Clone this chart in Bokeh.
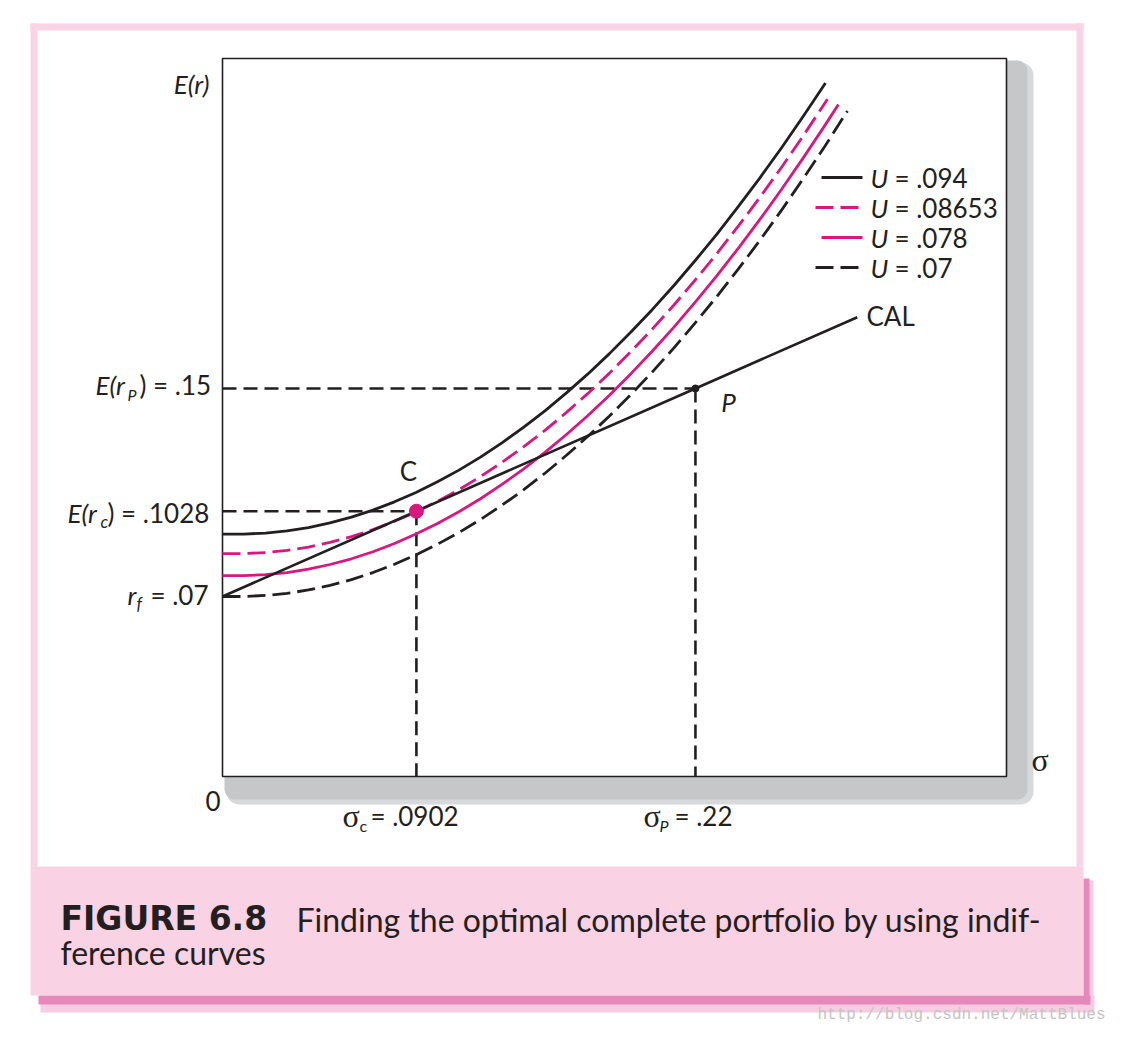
from bokeh.plotting import figure
from bokeh.models import Range1d, BoxAnnotation
from bokeh.core.properties import value
from bokeh.embed import file_html
from bokeh.resources import INLINE

# ---------------- data ----------------
rf = 0.07
sigma_p, er_p = 0.22, 0.15
sigma_c, er_c = 0.0902, 0.1028

cal_sigma = [0.0, 0.0902, 0.22, 0.2953]
cal_er = [0.07, 0.1028, 0.15, 0.1774]

u094_sigma = [0.0, 0.01, 0.02, 0.03, 0.04, 0.05, 0.06, 0.07, 0.08, 0.09, 0.10, 0.11, 0.12,
              0.13, 0.14, 0.15, 0.16, 0.17, 0.18, 0.19, 0.20, 0.21, 0.22, 0.23, 0.24, 0.25,
              0.26, 0.27, 0.2805]
u094_er = [0.0940, 0.0940, 0.0944, 0.0952, 0.0965, 0.0983, 0.1005, 0.1032, 0.1064, 0.1100,
           0.1141, 0.1186, 0.1236, 0.1291, 0.1350, 0.1414, 0.1483, 0.1556, 0.1634, 0.1717,
           0.1804, 0.1896, 0.1993, 0.2094, 0.2200, 0.2310, 0.2425, 0.2545, 0.2675]

u08653_sigma = [0.0, 0.01, 0.02, 0.03, 0.04, 0.05, 0.06, 0.07, 0.08, 0.09, 0.10, 0.11, 0.12,
                0.13, 0.14, 0.15, 0.16, 0.17, 0.18, 0.19, 0.20, 0.21, 0.22, 0.23, 0.24, 0.25,
                0.26, 0.27, 0.2814]
u08653_er = [0.0865, 0.0865, 0.0869, 0.0877, 0.0890, 0.0908, 0.0930, 0.0957, 0.0989, 0.1025,
             0.1066, 0.1111, 0.1161, 0.1216, 0.1275, 0.1339, 0.1408, 0.1481, 0.1559, 0.1642,
             0.1729, 0.1821, 0.1918, 0.2019, 0.2125, 0.2235, 0.2350, 0.2470, 0.2612]

u078_sigma = [0.0, 0.01, 0.02, 0.03, 0.04, 0.05, 0.06, 0.07, 0.08, 0.09, 0.10, 0.11, 0.12,
              0.13, 0.14, 0.15, 0.16, 0.17, 0.18, 0.19, 0.20, 0.21, 0.22, 0.23, 0.24, 0.25,
              0.26, 0.27, 0.28, 0.2865]
u078_er = [0.0780, 0.0780, 0.0784, 0.0792, 0.0805, 0.0823, 0.0845, 0.0872, 0.0904, 0.0940,
           0.0981, 0.1026, 0.1076, 0.1131, 0.1190, 0.1254, 0.1323, 0.1396, 0.1474, 0.1557,
           0.1644, 0.1736, 0.1833, 0.1934, 0.2040, 0.2150, 0.2265, 0.2385, 0.2509, 0.2592]

u07_sigma = [0.0, 0.01, 0.02, 0.03, 0.04, 0.05, 0.06, 0.07, 0.08, 0.09, 0.10, 0.11, 0.12,
             0.13, 0.14, 0.15, 0.16, 0.17, 0.18, 0.19, 0.20, 0.21, 0.22, 0.23, 0.24, 0.25,
             0.26, 0.27, 0.28, 0.2907]
u07_er = [0.0700, 0.0700, 0.0704, 0.0712, 0.0725, 0.0743, 0.0765, 0.0792, 0.0824, 0.0860,
          0.0901, 0.0946, 0.0996, 0.1051, 0.1110, 0.1174, 0.1243, 0.1316, 0.1394, 0.1477,
          0.1564, 0.1656, 0.1753, 0.1854, 0.1960, 0.2070, 0.2185, 0.2305, 0.2429, 0.2567]

utility_labels = [".094", ".08653", ".078", ".07"]

# ---------------- styles / layout ----------------
INK = "#231f20"
MAG = "#d8177f"
PINK = "#f8d4e4"
FONT = "Lato"
SERIF = "Liberation Serif"

curve_series = [(u094_sigma, u094_er), (u08653_sigma, u08653_er),
                (u078_sigma, u078_er), (u07_sigma, u07_er)]
curve_colors = [INK, MAG, MAG, INK]
curve_dashes = ["solid", "18 7", "solid", "18 7"]

W, H = 1108, 1027
X0, Y0 = 0, 0

BOX_L, BOX_R, BOX_T, BOX_B = 222, 1006, 58, 776
SIG_L, SIG_R = 0.0, 0.3647
ER_B, ER_T = 0.00077, 0.2769


def X(s):
    return BOX_L + (s - SIG_L) / (SIG_R - SIG_L) * (BOX_R - BOX_L)


def Y(e):
    return BOX_B - (e - ER_B) / (ER_T - ER_B) * (BOX_B - BOX_T)


p = figure(width=W, height=H, x_range=Range1d(X0, X0 + W), y_range=Range1d(Y0 + H, Y0),
           x_axis_location=None, y_axis_location=None, toolbar_location=None,
           output_backend="svg", min_border=0)
p.min_border_left = p.min_border_right = p.min_border_top = p.min_border_bottom = 0
p.grid.visible = False
p.outline_line_color = None
p.background_fill_color = "white"
p.border_fill_color = "white"

ks = (SIG_R - SIG_L) / (BOX_R - BOX_L)
ke = (ER_T - ER_B) / (BOX_B - BOX_T)
p.extra_x_ranges = {"sig": Range1d(SIG_L + (X0 - BOX_L) * ks, SIG_L + (X0 + W - BOX_L) * ks)}
p.extra_y_ranges = {"er": Range1d(ER_B + (BOX_B - (Y0 + H)) * ke, ER_B + (BOX_B - Y0) * ke)}


def label(x, y, s, size=26, font=FONT, style="normal", align="left", color=INK):
    p.text(x=[x], y=[y], text=[s], text_font=value(font), text_font_size=f"{size}px",
           text_font_style=style, text_align=align, text_baseline="middle",
           text_color=color)


# ---------- page decorations ----------
p.quad(left=[30, 30, 1076], right=[1083, 37, 1083], top=[23, 23, 23], bottom=[30, 866, 866],
       fill_color=PINK, line_color=None)
p.quad(left=[40, 1083], right=[1094, 1093], top=[995, 880], bottom=[1012, 1012],
       fill_color="#f6cde0", line_color=None)
p.quad(left=[38, 1083], right=[1090, 1089], top=[995, 878], bottom=[1004, 1004],
       fill_color="#e688b9", line_color=None)
p.quad(left=[30], right=[1083], top=[866], bottom=[995], fill_color="#f9d2e3", line_color=None)

# chart shadow (rounded)
p.add_layout(BoxAnnotation(left=226, right=1033, top=62, bottom=804, fill_color="#d8d9db",
                           fill_alpha=1, line_color=None, border_radius=13, level="underlay"))
p.add_layout(BoxAnnotation(left=224, right=1027, top=60, bottom=799, fill_color="#c6c7c9",
                           fill_alpha=1, line_color=None, border_radius=10, level="underlay"))
p.quad(left=[BOX_L], right=[BOX_R], top=[BOX_T], bottom=[BOX_B], fill_color="white",
       line_color=INK, line_width=1.6)

# ---------- chart content ----------
R = dict(x_range_name="sig", y_range_name="er")
for xs, ys in (([SIG_L, sigma_p], [er_p, er_p]), ([sigma_p, sigma_p], [er_p, ER_B]),
               ([SIG_L, sigma_c], [er_c, er_c]), ([sigma_c, sigma_c], [er_c, ER_B])):
    p.line(xs, ys, line_color=INK, line_width=2.6, line_dash="14 7", **R)

for (sx, sy), col, dash in zip(curve_series, curve_colors, curve_dashes):
    p.line(sx, sy, line_color=col, line_width=2.8, line_dash=dash, line_join="round", **R)

p.line(cal_sigma, cal_er, line_color=INK, line_width=2.6, **R)

p.scatter([sigma_p], [er_p], size=7, color=INK, **R)
p.scatter([sigma_c], [er_c], size=14, color=MAG, line_color=MAG, **R)

# ---------- chart labels ----------
label(X(sigma_c) - 8, Y(er_c) - 40, "C", align="center")
label(X(sigma_p) + 33, Y(er_p) + 14, "P", style="italic", align="center")
label(866, Y(cal_er[-1]) - 1, "CAL")

legend_rows = [177, 207, 237, 267]
for lab, row, col, dash in zip(utility_labels, legend_rows, curve_colors, curve_dashes):
    if dash == "solid":
        p.line([821, 862], [row, row], line_color=col, line_width=2.8)
    else:
        p.line([815, 862], [row, row], line_color=col, line_width=2.8, line_dash=dash)
    label(870, row, "U", style="italic")
    label(894, row, "= " + lab)

label(209, 83, "E(r)", style="italic", align="right", size=26)

yp = Y(er_p)
label(95, yp - 3, "E(r", style="italic")
label(127, yp + 6, "P", style="italic", size=16)
label(139, yp - 3, ") = .15")

yc = Y(er_c)
label(67, yc + 2, "E(r", style="italic")
label(100, yc + 10, "c", style="italic", size=17)
label(107, yc + 2, ") = .1028")

yf = Y(rf)
label(127, yf - 1, "r", style="italic")
label(136, yf + 7, "f", style="italic", size=17)
label(150, yf - 1, "= .07")

label(205, 800, "0")
xc = X(sigma_c)
label(xc - 74, 815, "σ", font=SERIF, size=32)
label(xc - 57, 825, "c", size=16)
label(xc - 46, 815, "= .0902")
xp = X(sigma_p)
label(xp - 52, 815, "σ", font=SERIF, size=32)
label(xp - 36, 825, "P", style="italic", size=16)
label(xp - 21, 815, "= .22")
label(1031, 759, "σ", font=SERIF, size=32)

# caption
label(60, 918, "FIGURE 6.8", font="DejaVu Sans", style="bold", size=33)
label(296, 919, "Finding the optimal complete portfolio by using indif-", size=32)
label(60, 952, "ference curves", size=32)

# watermark
label(1105, 1014, "http://blog.csdn.net/MattBlues", font="Liberation Mono", size=16,
      color="#c4c4c4", align="right")

open("out.html", "w").write(file_html(p, INLINE))
